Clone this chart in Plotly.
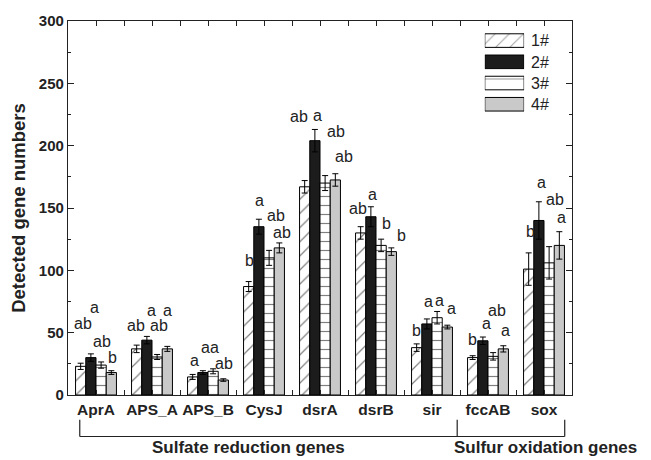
import plotly.graph_objects as go

categories = ["AprA", "APS_A", "APS_B", "CysJ", "dsrA", "dsrB", "sir", "fccAB", "sox"]
series_names = ["1#", "2#", "3#", "4#"]

s1 = [23, 37, 14.5, 87, 167, 130, 38, 30, 101]
s2 = [30, 44, 18, 135, 204, 143, 57, 43.5, 140]
s3 = [24, 30.5, 19, 110, 170, 120, 62, 31, 106]
s4 = [18, 37, 12, 118, 172.5, 115, 54.5, 37, 120]

e1 = [2.5, 3, 2, 4, 5, 5, 3, 1.5, 13]
e2 = [3, 3, 1.5, 6, 9, 8, 4, 3, 15]
e3 = [2.5, 2, 2, 6, 6, 5, 5, 3, 13]
e4 = [1.5, 2, 1, 4, 5, 3, 1.5, 2.5, 11]

# significance letters per series (None = no letter)
letters1 = ["ab", "ab", "a", "b", "ab", "ab", "b", "b", "b"]
letters2 = ["a", "a", "aa", "a", "a", "a", "a", "a", "a"]
letters3 = ["ab", "ab", None, "ab", "ab", "b", "a", "ab", "ab"]
letters4 = ["b", "a", "ab", "ab", "ab", "b", "a", "a", "a"]

# label placement (x offset from category centre, y in data units)
lab_dx1 = [-0.23, -0.28, -0.24, -0.26, -0.37, -0.32, -0.27, -0.27, -0.25]
lab_y1 = [57, 55.6, 28, 107.7, 223.6, 149.4, 52, 44.7, 131.5]
lab_dx2 = [-0.03, -0.01, 0.03, -0.08, -0.05, -0.055, -0.06, -0.02, -0.05]
lab_y2 = [70, 67.5, 38.5, 156, 224, 161, 75, 57.4, 170.6]
lab_dx3 = [0.10, 0.125, 0, 0.21, 0.28, 0.18, 0.13, 0.16, 0.20]
lab_y3 = [43, 55.6, 0, 143.6, 211.7, 137.5, 76, 67.5, 156.5]
lab_dx4 = [0.295, 0.285, 0.29, 0.33, 0.43, 0.455, 0.345, 0.32, 0.31]
lab_y4 = [30.4, 67.5, 25.6, 130.4, 191.3, 128.3, 69, 52.1, 142.5]

groups = ["Sulfate reduction genes", "Sulfur oxidation genes"]

FONT = "Liberation Sans, Arial, sans-serif"
x = list(range(len(categories)))

styles = [
    dict(color="white", pattern=dict(shape="/", fgcolor="black", bgcolor="white", size=10, solidity=0.12)),
    dict(color="#1c1c1c"),
    dict(color="white", pattern=dict(shape="-", fgcolor="black", bgcolor="white", size=9, solidity=0.13)),
    dict(color="#c9c9c9"),
]

fig = go.Figure()
for name, vals, errs, st in zip(series_names, [s1, s2, s3, s4], [e1, e2, e3, e4], styles):
    marker = dict(line=dict(color="black", width=1), **st)
    fig.add_trace(go.Bar(
        x=x, y=vals, name=name, marker=marker, showlegend=False,
        error_y=dict(type="data", array=errs, color="black", thickness=1, width=3),
    ))

# custom legend drawn as bars on a small inset axis
leg_colors = [s["color"] for s in styles]
leg_shapes = ["/", "", "-", ""]
leg_sizes = [10, 8, 14, 8]
leg_sol = [0.1, 0.1, 0.08, 0.1]
fig.add_trace(go.Bar(
    x=[1, 1, 1, 1], y=series_names, orientation="h", xaxis="x2", yaxis="y2",
    width=0.64, showlegend=False,
    marker=dict(color=leg_colors, line=dict(color="black", width=1),
                pattern=dict(shape=leg_shapes, fgcolor="black", bgcolor=leg_colors,
                             size=leg_sizes, solidity=leg_sol)),
))

annotations = []
for texts, dxs, ys in [(letters1, lab_dx1, lab_y1), (letters2, lab_dx2, lab_y2),
                       (letters3, lab_dx3, lab_y3), (letters4, lab_dx4, lab_y4)]:
    for i, (t, dx, yy) in enumerate(zip(texts, dxs, ys)):
        if t is None:
            continue
        annotations.append(dict(x=i + dx, y=yy, xref="x", yref="y", text=t, showarrow=False,
                                xanchor="center", yanchor="middle",
                                font=dict(family=FONT, size=16, color="#222")))

leg_y = [0.947, 0.889, 0.833, 0.777]
for name, yy in zip(series_names, leg_y):
    annotations.append(dict(x=0.915, y=yy, xref="paper", yref="paper", text=name, showarrow=False,
                            xanchor="left", yanchor="middle",
                            font=dict(family=FONT, size=16, color="#222")))

annotations.append(dict(x=2.73, y=-0.141, xref="x", yref="paper", text="<b>%s</b>" % groups[0],
                        showarrow=False, xanchor="center", yanchor="middle",
                        font=dict(family=FONT, size=17, color="#222")))
annotations.append(dict(x=8.03, y=-0.141, xref="x", yref="paper", text="<b>%s</b>" % groups[1],
                        showarrow=False, xanchor="center", yanchor="middle",
                        font=dict(family=FONT, size=17, color="#222")))

line = dict(color="#222", width=1.2)
shapes = [
    dict(type="line", xref="x", yref="paper", x0=-0.29, x1=8.37, y0=-0.111, y1=-0.111, line=line),
    dict(type="line", xref="x", yref="paper", x0=-0.29, x1=-0.29, y0=-0.066, y1=-0.111, line=line),
    dict(type="line", xref="x", yref="paper", x0=6.45, x1=6.45, y0=-0.066, y1=-0.111, line=line),
    dict(type="line", xref="x", yref="paper", x0=8.37, x1=8.37, y0=-0.066, y1=-0.111, line=line),
]

fig.update_layout(
    width=651, height=460,
    margin=dict(l=68, r=79, t=18, b=65),
    paper_bgcolor="white", plot_bgcolor="white",
    barmode="group", bargap=0.27, bargroupgap=0,
    font=dict(family=FONT, color="#222"),
    annotations=annotations, shapes=shapes,
    xaxis=dict(range=[-0.5, 8.5], tickmode="array", tickvals=x, ticktext=categories,
               ticks="inside", ticklen=5, tickcolor="#222", showline=True, linecolor="#222",
               linewidth=1.2, mirror="ticks", showgrid=False, zeroline=False,
               tickfont=dict(family=FONT, size=15.5, color="#222", weight="bold"),
               minor=dict(ticks="inside", tickmode="linear", tick0=0.5, dtick=1, ticklen=5,
                          tickcolor="#222", showgrid=False)),
    yaxis=dict(range=[0, 300], dtick=50, ticks="inside", ticklen=6, tickcolor="#222",
               showline=True, linecolor="#222", linewidth=1.2, mirror="ticks",
               showgrid=False, zeroline=False,
               tickfont=dict(family=FONT, size=15, color="#222", weight="bold"),
               minor=dict(ticks="inside", dtick=25, ticklen=3, tickcolor="#222", showgrid=False),
               title=dict(text="Detected gene numbers", standoff=8,
                          font=dict(family=FONT, size=18.5, color="#222", weight="bold"))),
    xaxis2=dict(domain=[0.827, 0.905], range=[0, 1], visible=False, anchor="y2", fixedrange=True),
    yaxis2=dict(domain=[0.749, 0.976], visible=False, anchor="x2", autorange="reversed",
                type="category", fixedrange=True),
)

fig.write_html("out.html")
